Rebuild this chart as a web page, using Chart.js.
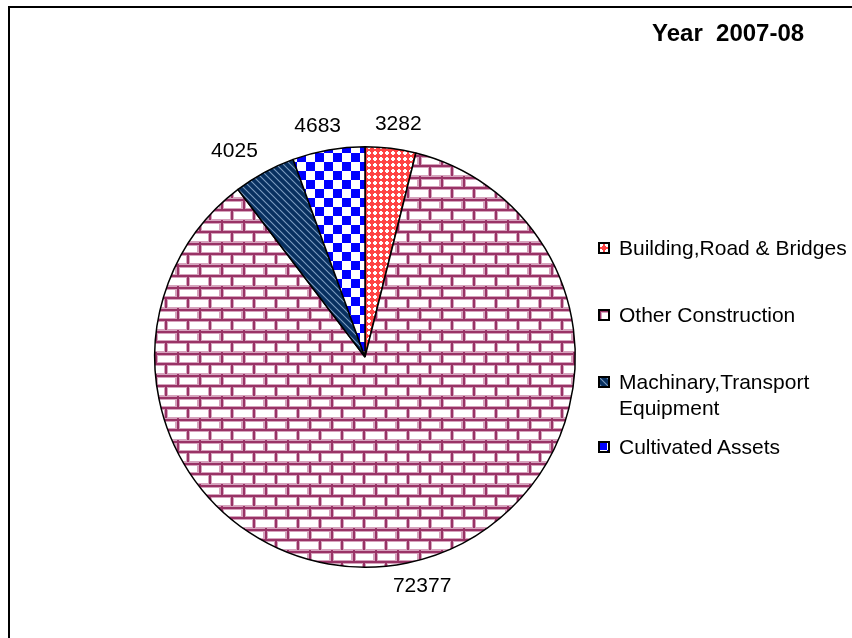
<!DOCTYPE html>
<html>
<head>
<meta charset="utf-8">
<script src="https://cdn.jsdelivr.net/npm/chart.js@4/dist/chart.umd.min.js"></script>
<style>
    html, body { margin: 0; padding: 0; background: #fff; }
    #wrap { position: relative; width: 852px; height: 638px; overflow: hidden; font-family: "Liberation Sans", Arial, sans-serif; }
    #frame { position: absolute; left: 8px; top: 6px; width: 860px; height: 650px; border-top: 2px solid #000; border-left: 2px solid #000; }
    #pie { position: absolute; left: 0; top: 0; }
    #title { position: absolute; left: 652px; top: 19px; font-size: 24px; font-weight: bold; white-space: pre; color: #000; line-height: 28px; }
    #legend { position: absolute; left: 598px; top: 0; margin: 0; padding: 0; list-style: none; }
    #legend li { position: absolute; left: 0; width: 250px; font-size: 21px; line-height: 26px; color: #000; white-space: nowrap; }
    #legend li canvas { position: absolute; left: 0; top: 7px; }
    #legend li span { position: absolute; left: 21px; top: 0; }
</style>
</head>
<body>
<div id="wrap">
    <div id="frame"></div>
    <canvas id="pie" width="852" height="638"></canvas>
    <div id="title">Year  2007-08</div>
    <ul id="legend"></ul>
</div>
<script>
    const categories = ['Building,Road & Bridges', 'Other Construction', 'Machinary,Transport Equipment', 'Cultivated Assets'];
    const legendLines = [['Building,Road & Bridges'], ['Other Construction'], ['Machinary,Transport', 'Equipment'], ['Cultivated Assets']];
    const values = [3282, 72377, 4025, 4683];

    function makeTile(w, h, draw) {
        const c = document.createElement('canvas');
        c.width = w;
        c.height = h;
        const g = c.getContext('2d');
        draw(g);
        return c;
    }

    // red lattice with white crosses
    const redTile = makeTile(6, 6, function (g) {
        g.fillStyle = '#ff4444';
        g.fillRect(0, 0, 6, 6);
        g.fillStyle = '#ffffff';
        g.fillRect(2, 1, 2, 4);
        g.fillRect(1, 2, 4, 2);
    });

    // bricks
    const brickTile = makeTile(22, 22, function (g) {
        g.fillStyle = '#ffffff';
        g.fillRect(0, 0, 22, 22);
        g.fillStyle = '#d6a3bd';
        g.fillRect(0, 0, 22, 4);
        g.fillRect(0, 10, 22, 4);
        g.fillRect(0, 21, 22, 1);
        g.fillRect(0, 0, 4, 11);
        g.fillRect(10, 11, 4, 11);
        g.fillRect(21, 0, 1, 11);
        g.fillStyle = '#993366';
        g.fillRect(0, 1, 22, 2);
        g.fillRect(0, 11, 22, 2);
        g.fillRect(1, 0, 2, 11);
        g.fillRect(11, 11, 2, 11);
    });

    // navy diagonal stripes
    const navyTile = makeTile(7, 7, function (g) {
        g.fillStyle = '#083060';
        g.fillRect(0, 0, 7, 7);
        g.strokeStyle = '#7d9cc0';
        g.lineWidth = 1.1;
        g.beginPath();
        g.moveTo(-1, -1); g.lineTo(8, 8);
        g.moveTo(6, -1); g.lineTo(8, 1);
        g.moveTo(-1, 6); g.lineTo(1, 8);
        g.stroke();
    });

    // blue checkerboard
    const checkTile = makeTile(18, 18, function (g) {
        g.fillStyle = '#ffffff';
        g.fillRect(0, 0, 18, 18);
        g.fillStyle = '#0000ff';
        g.fillRect(0, 0, 9, 9);
        g.fillRect(9, 9, 9, 9);
    });

    const tiles = [redTile, brickTile, navyTile, checkTile];

    const ctx = document.getElementById('pie').getContext('2d');
    const patterns = tiles.map(t => ctx.createPattern(t, 'repeat'));

    const valueLabels = {
        id: 'valueLabels',
        afterDatasetsDraw(chart) {
            const c = chart.ctx;
            const meta = chart.getDatasetMeta(0);
            c.save();
            c.font = '21px "Liberation Sans", Arial, sans-serif';
            c.fillStyle = '#000';
            c.textAlign = 'center';
            c.textBaseline = 'middle';
            meta.data.forEach(function (arc, i) {
                const p = arc.getProps(['x', 'y', 'startAngle', 'endAngle', 'outerRadius'], true);
                const mid = (p.startAngle + p.endAngle) / 2;
                const dx = Math.cos(mid);
                const dy = Math.sin(mid);
                const text = String(values[i]);
                const w = c.measureText(text).width;
                const d = p.outerRadius + 16;
                c.fillText(text, p.x + dx * d + dx * w, p.y + dy * d + dy * 8);
            });
            c.restore();
        }
    };

    new Chart(ctx, {
        type: 'pie',
        data: {
            labels: categories,
            datasets: [{
                data: values,
                backgroundColor: patterns,
                borderColor: '#000000',
                borderWidth: 1.5
            }]
        },
        options: {
            responsive: false,
            animation: false,
            layout: {
                padding: { left: 154, top: 146, right: 276, bottom: 70 }
            },
            plugins: {
                legend: { display: false },
                tooltip: { enabled: false },
                title: { display: false }
            }
        },
        plugins: [valueLabels]
    });

    // legend on the right
    const legendTops = [235, 302, 369, 434];
    const legend = document.getElementById('legend');
    categories.forEach(function (name, i) {
        const li = document.createElement('li');
        li.style.top = legendTops[i] + 'px';
        li.title = name;
        const sw = document.createElement('canvas');
        sw.width = 12;
        sw.height = 12;
        const g = sw.getContext('2d');
        g.fillStyle = g.createPattern(tiles[i], 'repeat');
        g.fillRect(0, 0, 12, 12);
        g.strokeStyle = '#000';
        g.lineWidth = 2;
        g.strokeRect(1, 1, 10, 10);
        li.appendChild(sw);
        const span = document.createElement('span');
        span.innerHTML = legendLines[i].join('<br>');
        li.appendChild(span);
        legend.appendChild(li);
    });
</script>
</body>
</html>
